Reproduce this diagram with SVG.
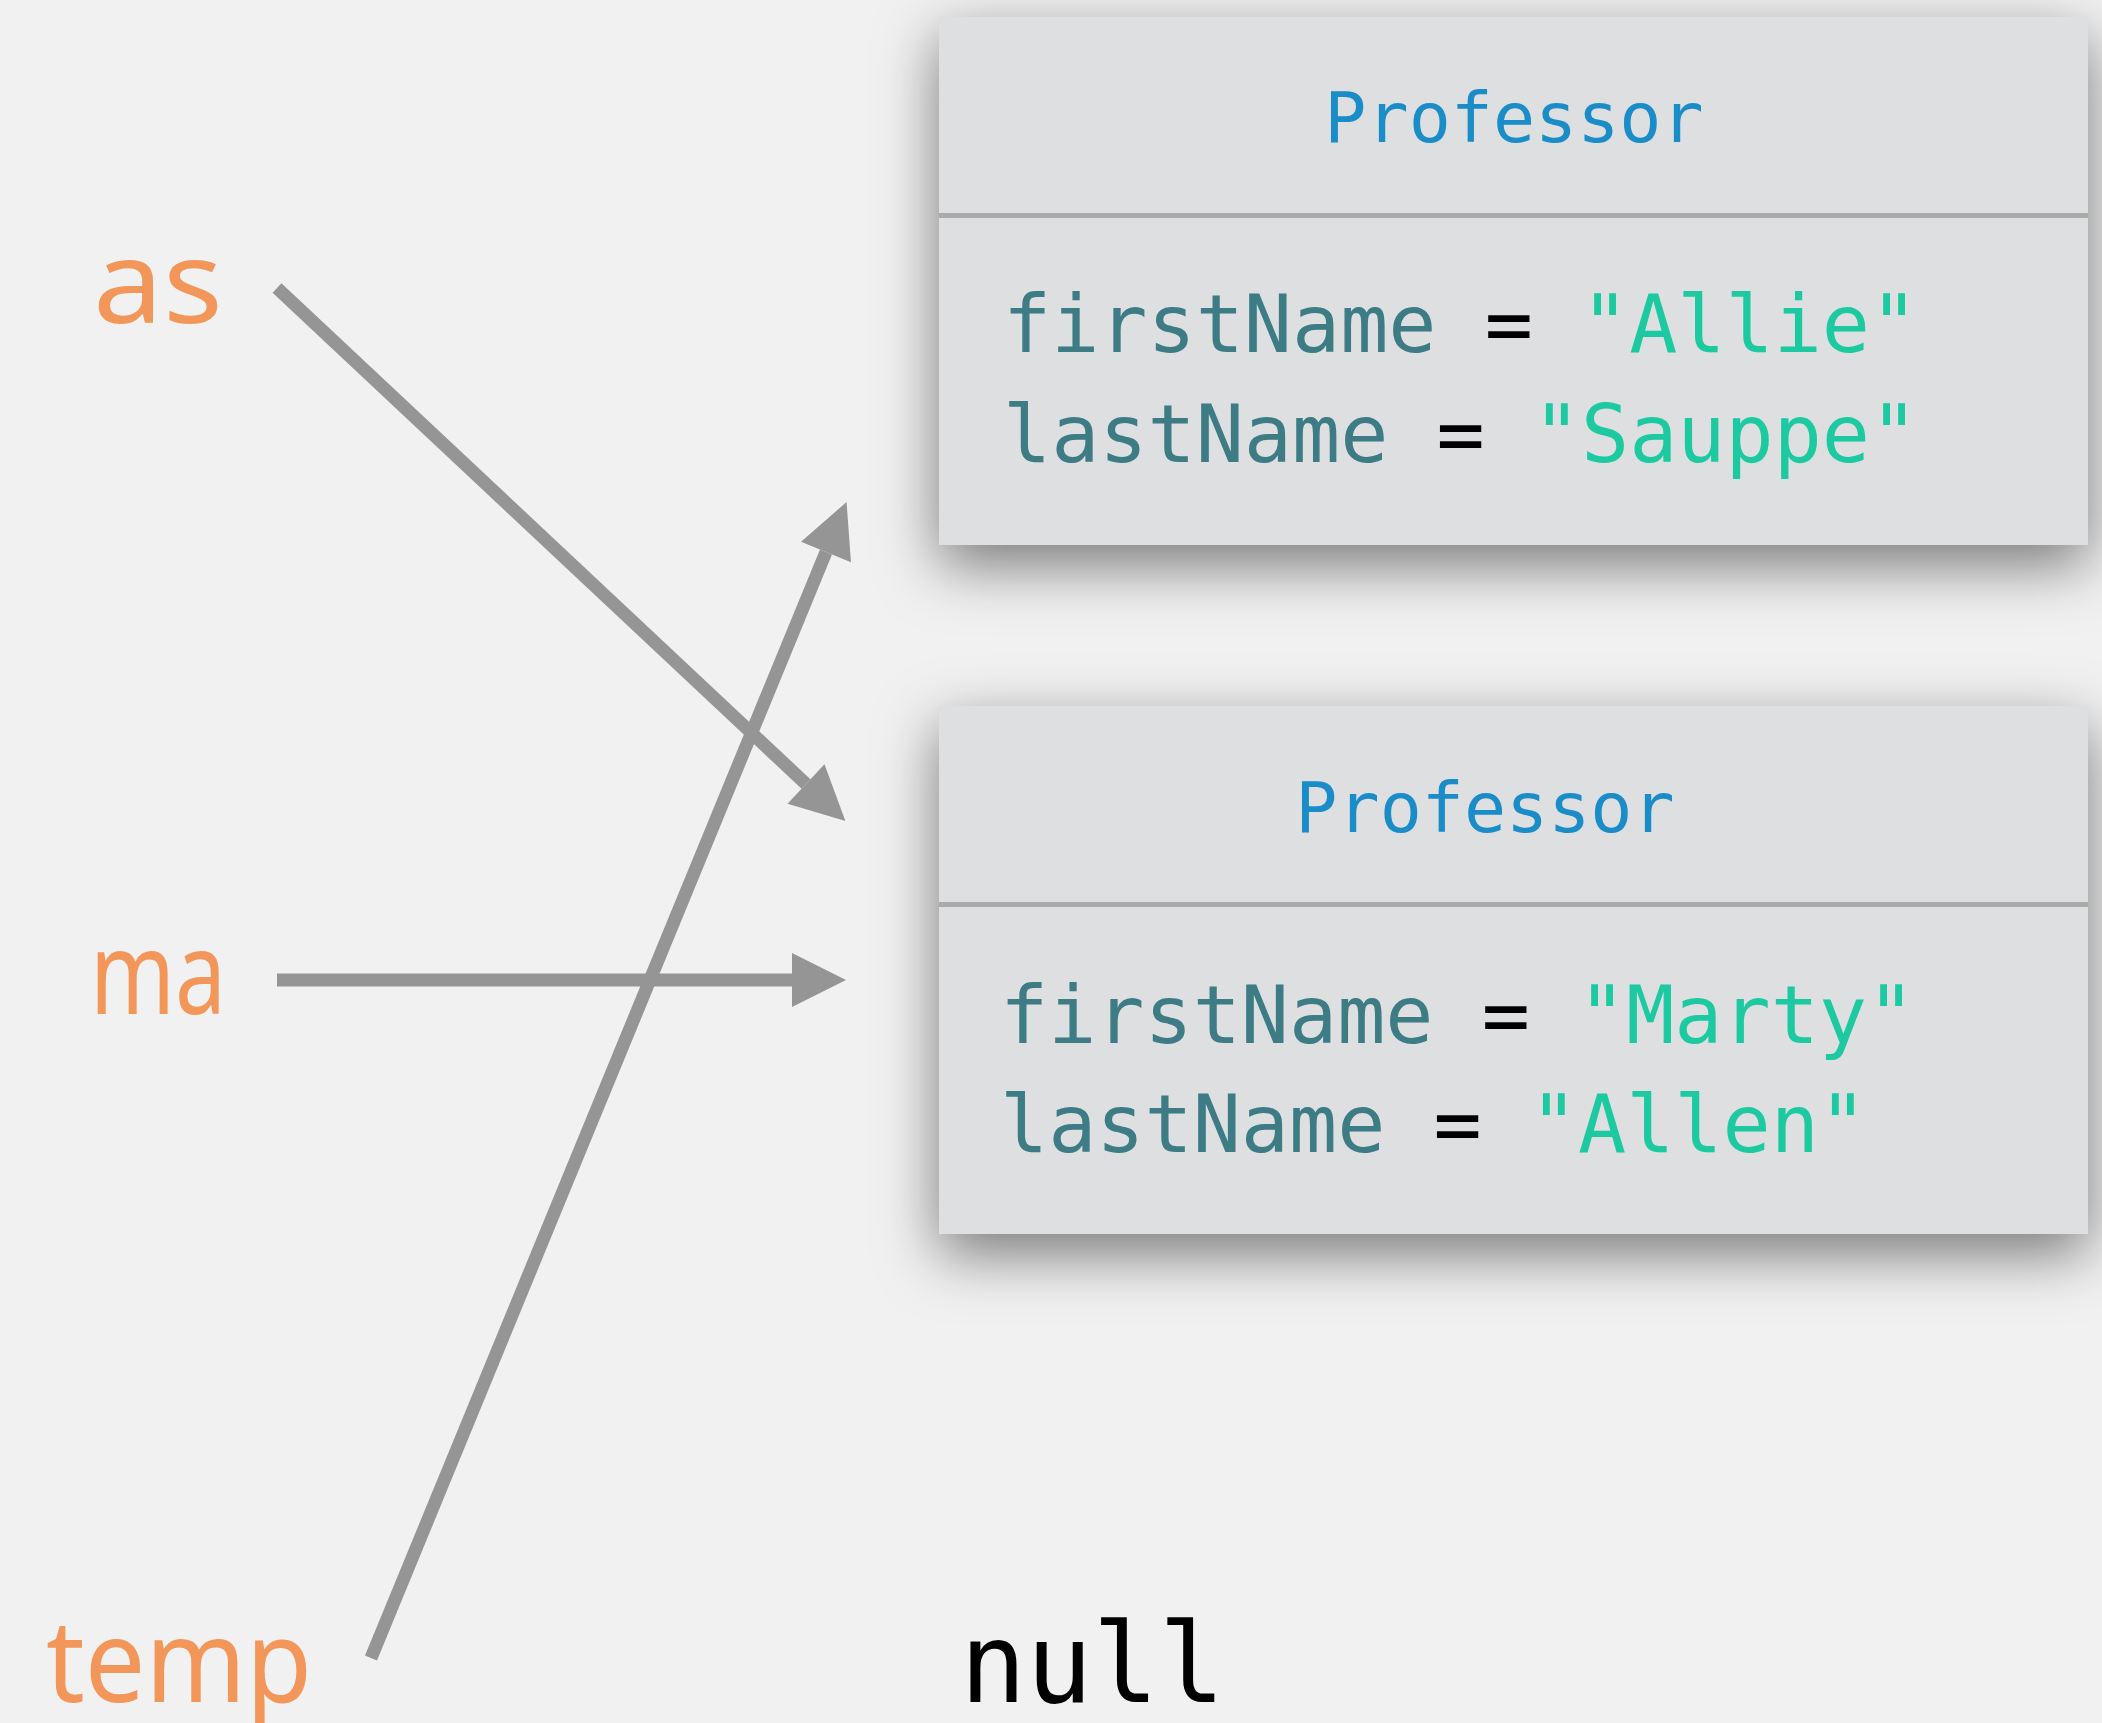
<svg xmlns="http://www.w3.org/2000/svg" width="2102" height="1723" viewBox="0 0 2102 1723">
  <style>
    .box { fill: #dddfe0; }
    .div { stroke: #a8abaa; stroke-width: 5; }
    .title { font-family: "DejaVu Sans Mono", "Liberation Mono", monospace; font-size: 70px; fill: #1a8cc8; text-anchor: middle; }
    .field { font-family: "DejaVu Sans Mono", "Liberation Mono", monospace; font-size: 80px; fill: #3d7b85; white-space: pre; }
    .eq { fill: #000000; }
    .str { fill: #1cc9a0; }
    .var { font-family: "Noto Sans", "Open Sans", sans-serif; font-size: 116px; fill: #f39659; }
    .null { font-family: "DejaVu Sans Mono", "Liberation Mono", monospace; font-size: 110px; fill: #000000; }
    .conn { stroke: #959595; fill: none; stroke-width: 13; }
  </style>
  <defs>
    <filter id="shadow" x="-15%" y="-30%" width="130%" height="170%">
      <feDropShadow dx="0" dy="20" stdDeviation="30" flood-color="#000000" flood-opacity="0.5"/>
    </filter>
    <marker id="head" markerUnits="userSpaceOnUse" viewBox="0 -30 60 60" refX="0" refY="0" markerWidth="60" markerHeight="60" orient="auto" overflow="visible">
      <path d="M0,-27 L54,0 L0,27 Z" fill="#959595"/>
    </marker>
  </defs>
  <rect width="2102" height="1723" fill="#f1f1f1"/>

  <g id="professor1">
    <rect class="box" x="939" y="17" width="1149" height="528" filter="url(#shadow)"/>
    <line class="div" x1="939" y1="215.5" x2="2088" y2="215.5"/>
    <text class="title" x="1514" y="142">Professor</text>
    <text class="field" x="1003" y="352">firstName<tspan class="eq"> = </tspan><tspan class="str">"Allie"</tspan></text>
    <text class="field" x="1003" y="462">lastName<tspan class="eq"> = </tspan><tspan class="str">"Sauppe"</tspan></text>
  </g>

  <g id="professor2">
    <rect class="box" x="939" y="706" width="1149" height="528" filter="url(#shadow)"/>
    <line class="div" x1="939" y1="904.5" x2="2088" y2="904.5"/>
    <text class="title" x="1485" y="832">Professor</text>
    <text class="field" x="1000" y="1043">firstName<tspan class="eq"> = </tspan><tspan class="str">"Marty"</tspan></text>
    <text class="field" x="1000" y="1152">lastName<tspan class="eq"> = </tspan><tspan class="str">"Allen"</tspan></text>
  </g>

  <g id="var-as"><text class="var" x="93" y="323" textLength="130" lengthAdjust="spacingAndGlyphs">as</text></g>
  <g id="var-ma"><text class="var" x="90" y="1014" textLength="136" lengthAdjust="spacingAndGlyphs">ma</text></g>
  <g id="var-temp"><text class="var" x="46" y="1702" textLength="266" lengthAdjust="spacingAndGlyphs">temp</text></g>
  <g id="null"><text class="null" x="960" y="1702">null</text></g>

  <g id="connectors">
    <line class="conn" x1="277" y1="288" x2="806" y2="784" marker-end="url(#head)"/>
    <line class="conn" x1="277" y1="980" x2="792" y2="980" marker-end="url(#head)"/>
    <line class="conn" x1="371" y1="1658" x2="826" y2="552" marker-end="url(#head)"/>
  </g>
</svg>
